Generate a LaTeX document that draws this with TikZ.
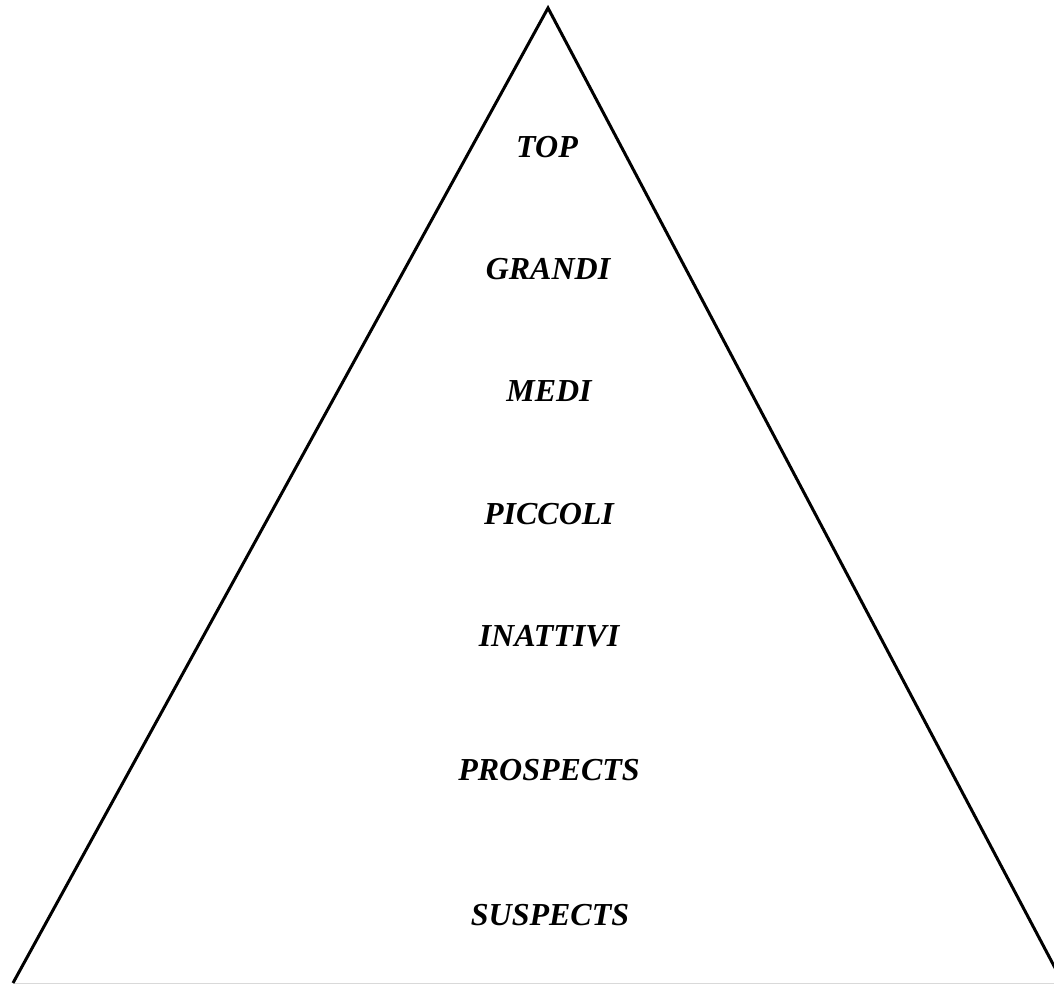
\documentclass[tikz,border=0pt]{standalone}
\usepackage{fontspec}
\setmainfont{Liberation Serif}
\begin{document}
\begin{tikzpicture}[x=1pt,y=-1pt,
  lvl/.style={font=\fontsize{32}{36}\selectfont\bfseries\itshape, inner sep=0pt, anchor=center},
  edge/.style={line width=3pt, black, line join=miter}]
\useasboundingbox (0,0) rectangle (1054,985);
\coordinate (apex) at (548,8);
\coordinate (bl) at (13,983);
\coordinate (br) at (1063,983);
\draw[black!15, line width=1pt] (bl) -- (1054,983);
\begin{scope}
\clip (0,0) rectangle (1054,985);
\draw[edge] (bl) -- (apex) -- (br);
\end{scope}
\node[lvl] (top) at (547,147) {TOP};
\node[lvl] (grandi) at (548,269) {GRANDI};
\node[lvl] (medi) at (549,391) {MEDI};
\node[lvl] (piccoli) at (549,514) {PICCOLI};
\node[lvl] (inattivi) at (549,636) {INATTIVI};
\node[lvl] (prospects) at (549,770) {PROSPECTS};
\node[lvl] (suspects) at (550,915) {SUSPECTS};
\end{tikzpicture}
\end{document}
